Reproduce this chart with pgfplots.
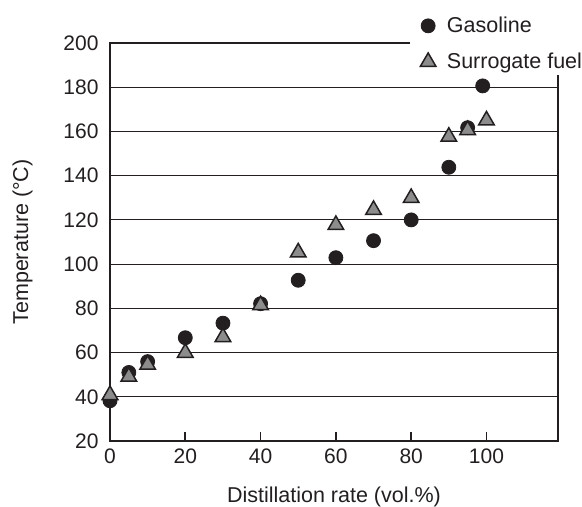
\documentclass[border=0pt]{standalone}
\usepackage{fontspec}
\setmainfont{Liberation Sans}
\usepackage{pgfplots}
\pgfplotsset{compat=1.18}
\definecolor{markdark}{HTML}{231F20}
\definecolor{markgray}{HTML}{8C8C8C}

\begin{document}
\begin{tikzpicture}
\path[use as bounding box] (-110bp,-66bp) rectangle (472bp,441bp);
\begin{axis}[
  scale only axis, width=448bp, height=398bp,
  xmin=0, xmax=119, ymin=20, ymax=200,
  xtick={0,20,...,100}, ytick={20,40,...,200},
  xtick pos=bottom, xtick align=inside,
  major tick length=9bp,
  xtick style={line width=1.8bp, color=markdark},
  ytick style={draw=none},
  ymajorgrids, major grid style={line width=1.1bp, color=markdark},
  axis line style={line width=2.4bp, color=markdark},
  /pgf/number format/assume math mode=true,
  tick label style={font=\fontsize{21bp}{25bp}\selectfont, color=markdark},
  yticklabel shift=8bp, xticklabel shift=4bp,
  label style={font=\fontsize{21.5bp}{26bp}\selectfont, color=markdark},
  xlabel={Distillation rate (vol.\%)}, xlabel shift=17bp,
  ylabel={Temperature (°C)}, ylabel shift=24bp,
  clip=false,
  legend style={at={(0.67,0.918)}, anchor=south west, draw=none, fill=white,
    font=\fontsize{21.5bp}{26bp}\selectfont, text=markdark,
    row sep=15bp, inner xsep=10bp, inner ysep=3bp,
    /tikz/every odd column/.append style={column sep=9bp}},
  legend cell align=left,
]
\addplot[only marks, mark=*, mark size=7bp,
  mark options={fill=markdark, draw=markdark, line width=0.8bp}]
  coordinates {(0,38.2) (5,51) (10,55.9) (20,66.7) (30,73.3) (40,82.1)
    (50,92.7) (60,102.9) (70,110.6) (80,120) (90,143.8) (95,161.7) (99,180.6)};
\addlegendentry{Gasoline}
\addplot[only marks, mark=triangle*, mark size=9bp,
  mark options={fill=markgray, draw=markdark, line width=1.5bp}]
  coordinates {(0,40.8) (5,49.1) (10,54.5) (20,59.9) (30,67) (40,81.4)
    (50,105.3) (60,117.7) (70,124.5) (80,129.9) (90,157.6) (95,160.6) (100,165)};
\addlegendentry{Surrogate fuel}
\end{axis}
\end{tikzpicture}
\end{document}
